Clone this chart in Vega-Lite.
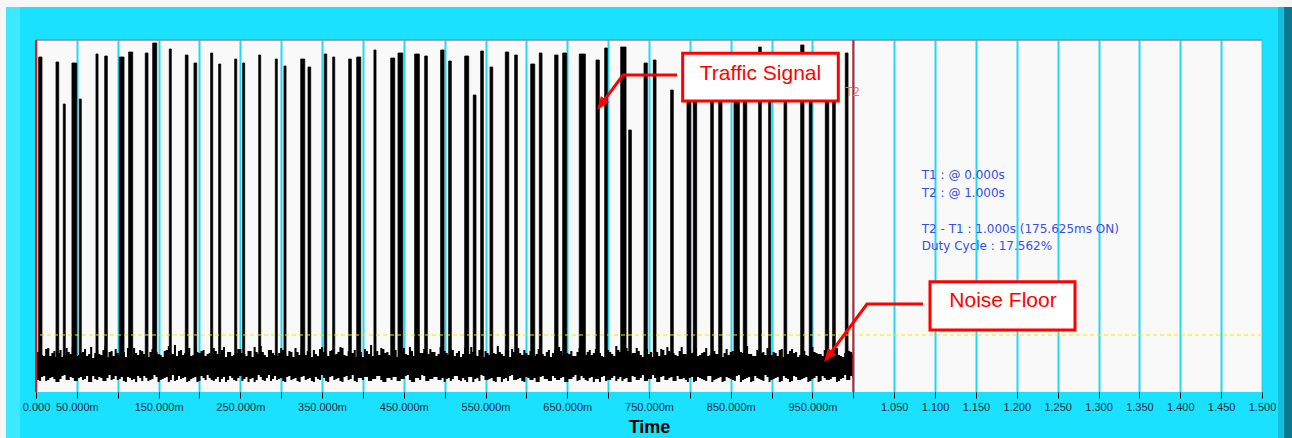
{
  "$schema": "https://vega.github.io/schema/vega-lite/v6.json",
  "width": 1226,
  "height": 352,
  "autosize": {"type": "none"},
  "padding": {"left": 36, "top": 40, "right": 30, "bottom": 46},
  "background": "#1ae1ff",
  "config": {
    "view": {"stroke": null, "fill": "#f9f9f9"},
    "font": "Liberation Sans"
  },
  "datasets": {
    "one": [{}],
    "noise": [
      {"t":0,"hi":38,"lo":14},{"t":0.005,"hi":41,"lo":11},{"t":0.01,"hi":36,"lo":16},{"t":0.015,"hi":44,"lo":12},{"t":0.02,"hi":39,"lo":15},{"t":0.025,"hi":35,"lo":10},{"t":0.03,"hi":42,"lo":13},{"t":0.035,"hi":37,"lo":17},{"t":0.04,"hi":40,"lo":12},{"t":0.045,"hi":45,"lo":14},{"t":0.05,"hi":36,"lo":11},{"t":0.055,"hi":39,"lo":15},{"t":0.06,"hi":43,"lo":13},{"t":0.065,"hi":38,"lo":10},{"t":0.07,"hi":34,"lo":16},{"t":0.075,"hi":41,"lo":12},{"t":0.08,"hi":37,"lo":14},{"t":0.085,"hi":46,"lo":11},{"t":0.09,"hi":40,"lo":17},{"t":0.095,"hi":36,"lo":13},
      {"t":0.1,"hi":39,"lo":12},{"t":0.105,"hi":42,"lo":15},{"t":0.11,"hi":35,"lo":10},{"t":0.115,"hi":38,"lo":14},{"t":0.12,"hi":44,"lo":13},{"t":0.125,"hi":37,"lo":16},{"t":0.13,"hi":41,"lo":11},{"t":0.135,"hi":36,"lo":14},{"t":0.14,"hi":40,"lo":12},{"t":0.145,"hi":43,"lo":17},{"t":0.15,"hi":38,"lo":10},{"t":0.155,"hi":35,"lo":13},{"t":0.16,"hi":42,"lo":15},{"t":0.165,"hi":39,"lo":12},{"t":0.17,"hi":47,"lo":11},{"t":0.175,"hi":41,"lo":16},{"t":0.18,"hi":37,"lo":14},{"t":0.185,"hi":40,"lo":10},{"t":0.19,"hi":36,"lo":13},{"t":0.195,"hi":44,"lo":15},
      {"t":0.2,"hi":39,"lo":11},{"t":0.205,"hi":42,"lo":14},{"t":0.21,"hi":38,"lo":17},{"t":0.215,"hi":35,"lo":12},{"t":0.22,"hi":41,"lo":13},{"t":0.225,"hi":37,"lo":10},{"t":0.23,"hi":45,"lo":15},{"t":0.235,"hi":40,"lo":12},{"t":0.24,"hi":36,"lo":14},{"t":0.245,"hi":39,"lo":11},{"t":0.25,"hi":43,"lo":16},{"t":0.255,"hi":38,"lo":13},{"t":0.26,"hi":41,"lo":10},{"t":0.265,"hi":35,"lo":14},{"t":0.27,"hi":40,"lo":12},{"t":0.275,"hi":46,"lo":15},{"t":0.28,"hi":37,"lo":11},{"t":0.285,"hi":42,"lo":17},{"t":0.29,"hi":39,"lo":13},{"t":0.295,"hi":36,"lo":12},
      {"t":0.3,"hi":44,"lo":14},{"t":0.305,"hi":38,"lo":10},{"t":0.31,"hi":41,"lo":16},{"t":0.315,"hi":35,"lo":13},{"t":0.32,"hi":40,"lo":11},{"t":0.325,"hi":43,"lo":15},{"t":0.33,"hi":37,"lo":12},{"t":0.335,"hi":39,"lo":14},{"t":0.34,"hi":42,"lo":10},{"t":0.345,"hi":36,"lo":13},{"t":0.35,"hi":45,"lo":17},{"t":0.355,"hi":38,"lo":11},{"t":0.36,"hi":41,"lo":15},{"t":0.365,"hi":37,"lo":12},{"t":0.37,"hi":40,"lo":14},{"t":0.375,"hi":44,"lo":10},{"t":0.38,"hi":36,"lo":16},{"t":0.385,"hi":39,"lo":13},{"t":0.39,"hi":42,"lo":11},{"t":0.395,"hi":38,"lo":14},
      {"t":0.4,"hi":35,"lo":12},{"t":0.405,"hi":41,"lo":15},{"t":0.41,"hi":47,"lo":11},{"t":0.415,"hi":39,"lo":13},{"t":0.42,"hi":37,"lo":16},{"t":0.425,"hi":43,"lo":10},{"t":0.43,"hi":40,"lo":14},{"t":0.435,"hi":36,"lo":12},{"t":0.44,"hi":42,"lo":15},{"t":0.445,"hi":38,"lo":11},{"t":0.45,"hi":44,"lo":13},{"t":0.455,"hi":37,"lo":17},{"t":0.46,"hi":41,"lo":10},{"t":0.465,"hi":35,"lo":14},{"t":0.47,"hi":39,"lo":12},{"t":0.475,"hi":43,"lo":16},{"t":0.48,"hi":38,"lo":11},{"t":0.485,"hi":40,"lo":13},{"t":0.49,"hi":36,"lo":15},{"t":0.495,"hi":45,"lo":12},
      {"t":0.5,"hi":41,"lo":10},{"t":0.505,"hi":37,"lo":14},{"t":0.51,"hi":42,"lo":13},{"t":0.515,"hi":39,"lo":16},{"t":0.52,"hi":35,"lo":11},{"t":0.525,"hi":44,"lo":12},{"t":0.53,"hi":38,"lo":15},{"t":0.535,"hi":40,"lo":10},{"t":0.54,"hi":36,"lo":14},{"t":0.545,"hi":43,"lo":17},{"t":0.55,"hi":41,"lo":12},{"t":0.555,"hi":37,"lo":13},{"t":0.56,"hi":39,"lo":11},{"t":0.565,"hi":46,"lo":15},{"t":0.57,"hi":38,"lo":10},{"t":0.575,"hi":42,"lo":14},{"t":0.58,"hi":35,"lo":16},{"t":0.585,"hi":40,"lo":12},{"t":0.59,"hi":44,"lo":13},{"t":0.595,"hi":37,"lo":11},
      {"t":0.6,"hi":39,"lo":15},{"t":0.605,"hi":41,"lo":12},{"t":0.61,"hi":36,"lo":14},{"t":0.615,"hi":43,"lo":10},{"t":0.62,"hi":38,"lo":16},{"t":0.625,"hi":40,"lo":13},{"t":0.63,"hi":35,"lo":11},{"t":0.635,"hi":42,"lo":14},{"t":0.64,"hi":45,"lo":12},{"t":0.645,"hi":37,"lo":15},{"t":0.65,"hi":39,"lo":10},{"t":0.655,"hi":41,"lo":13},{"t":0.66,"hi":36,"lo":17},{"t":0.665,"hi":44,"lo":12},{"t":0.67,"hi":38,"lo":14},{"t":0.675,"hi":40,"lo":11},{"t":0.68,"hi":37,"lo":15},{"t":0.685,"hi":43,"lo":13},{"t":0.69,"hi":39,"lo":10},{"t":0.695,"hi":35,"lo":16},
      {"t":0.7,"hi":42,"lo":12},{"t":0.705,"hi":38,"lo":14},{"t":0.71,"hi":46,"lo":11},{"t":0.715,"hi":40,"lo":15},{"t":0.72,"hi":36,"lo":13},{"t":0.725,"hi":41,"lo":10},{"t":0.73,"hi":39,"lo":16},{"t":0.735,"hi":44,"lo":12},{"t":0.74,"hi":37,"lo":14},{"t":0.745,"hi":42,"lo":11},{"t":0.75,"hi":38,"lo":13},{"t":0.755,"hi":35,"lo":17},{"t":0.76,"hi":40,"lo":10},{"t":0.765,"hi":43,"lo":15},{"t":0.77,"hi":37,"lo":12},{"t":0.775,"hi":41,"lo":14},{"t":0.78,"hi":39,"lo":11},{"t":0.785,"hi":36,"lo":16},{"t":0.79,"hi":45,"lo":13},{"t":0.795,"hi":38,"lo":12},
      {"t":0.8,"hi":42,"lo":14},{"t":0.805,"hi":40,"lo":10},{"t":0.81,"hi":36,"lo":15},{"t":0.815,"hi":39,"lo":13},{"t":0.82,"hi":44,"lo":11},{"t":0.825,"hi":37,"lo":16},{"t":0.83,"hi":41,"lo":12},{"t":0.835,"hi":38,"lo":14},{"t":0.84,"hi":35,"lo":10},{"t":0.845,"hi":43,"lo":15},{"t":0.85,"hi":40,"lo":13},{"t":0.855,"hi":37,"lo":11},{"t":0.86,"hi":42,"lo":17},{"t":0.865,"hi":39,"lo":12},{"t":0.87,"hi":46,"lo":14},{"t":0.875,"hi":38,"lo":10},{"t":0.88,"hi":36,"lo":16},{"t":0.885,"hi":41,"lo":13},{"t":0.89,"hi":40,"lo":11},{"t":0.895,"hi":44,"lo":15},
      {"t":0.9,"hi":37,"lo":12},{"t":0.905,"hi":39,"lo":14},{"t":0.91,"hi":42,"lo":10},{"t":0.915,"hi":35,"lo":16},{"t":0.92,"hi":38,"lo":13},{"t":0.925,"hi":43,"lo":11},{"t":0.93,"hi":40,"lo":15},{"t":0.935,"hi":37,"lo":12},{"t":0.94,"hi":41,"lo":14},{"t":0.945,"hi":36,"lo":10},{"t":0.95,"hi":45,"lo":13},{"t":0.955,"hi":39,"lo":16},{"t":0.96,"hi":38,"lo":11},{"t":0.965,"hi":42,"lo":14},{"t":0.97,"hi":37,"lo":12},{"t":0.975,"hi":40,"lo":15},{"t":0.98,"hi":44,"lo":10},{"t":0.985,"hi":36,"lo":13},{"t":0.99,"hi":39,"lo":17},{"t":0.995,"hi":41,"lo":12},
      {"t":1.0,"hi":38,"lo":14},
      {"t":0.0025,"hi":40,"lo":12},{"t":0.0075,"hi":37,"lo":15},{"t":0.0125,"hi":43,"lo":11},{"t":0.0175,"hi":36,"lo":14},{"t":0.0225,"hi":41,"lo":13},{"t":0.0275,"hi":39,"lo":10},{"t":0.0325,"hi":35,"lo":16},{"t":0.0375,"hi":44,"lo":12},{"t":0.0425,"hi":38,"lo":15},{"t":0.0475,"hi":42,"lo":11},{"t":0.0525,"hi":37,"lo":14},{"t":0.0575,"hi":40,"lo":12},{"t":0.0625,"hi":36,"lo":16},{"t":0.0675,"hi":45,"lo":10},{"t":0.0725,"hi":39,"lo":13},{"t":0.0775,"hi":38,"lo":15},{"t":0.0825,"hi":42,"lo":11},{"t":0.0875,"hi":35,"lo":14},{"t":0.0925,"hi":41,"lo":12},{"t":0.0975,"hi":43,"lo":16},
      {"t":0.1025,"hi":37,"lo":13},{"t":0.1075,"hi":40,"lo":11},{"t":0.1125,"hi":44,"lo":15},{"t":0.1175,"hi":36,"lo":12},{"t":0.1225,"hi":39,"lo":10},{"t":0.1275,"hi":42,"lo":14},{"t":0.1325,"hi":38,"lo":16},{"t":0.1375,"hi":35,"lo":11},{"t":0.1425,"hi":43,"lo":13},{"t":0.1475,"hi":40,"lo":15},{"t":0.1525,"hi":37,"lo":12},{"t":0.1575,"hi":41,"lo":14},{"t":0.1625,"hi":46,"lo":10},{"t":0.1675,"hi":38,"lo":17},{"t":0.1725,"hi":36,"lo":12},{"t":0.1775,"hi":42,"lo":13},{"t":0.1825,"hi":39,"lo":15},{"t":0.1875,"hi":44,"lo":11},{"t":0.1925,"hi":37,"lo":14},{"t":0.1975,"hi":40,"lo":10},
      {"t":0.2025,"hi":41,"lo":16},{"t":0.2075,"hi":36,"lo":12},{"t":0.2125,"hi":39,"lo":14},{"t":0.2175,"hi":44,"lo":11},{"t":0.2225,"hi":38,"lo":15},{"t":0.2275,"hi":42,"lo":13},{"t":0.2325,"hi":35,"lo":10},{"t":0.2375,"hi":40,"lo":16},{"t":0.2425,"hi":37,"lo":12},{"t":0.2475,"hi":43,"lo":14},{"t":0.2525,"hi":39,"lo":11},{"t":0.2575,"hi":36,"lo":15},{"t":0.2625,"hi":41,"lo":13},{"t":0.2675,"hi":45,"lo":10},{"t":0.2725,"hi":38,"lo":17},{"t":0.2775,"hi":40,"lo":12},{"t":0.2825,"hi":35,"lo":14},{"t":0.2875,"hi":42,"lo":11},{"t":0.2925,"hi":37,"lo":16},{"t":0.2975,"hi":39,"lo":13},
      {"t":0.3025,"hi":42,"lo":11},{"t":0.3075,"hi":36,"lo":15},{"t":0.3125,"hi":40,"lo":12},{"t":0.3175,"hi":44,"lo":14},{"t":0.3225,"hi":37,"lo":10},{"t":0.3275,"hi":39,"lo":16},{"t":0.3325,"hi":41,"lo":13},{"t":0.3375,"hi":35,"lo":11},{"t":0.3425,"hi":38,"lo":15},{"t":0.3475,"hi":43,"lo":12},{"t":0.3525,"hi":40,"lo":14},{"t":0.3575,"hi":36,"lo":10},{"t":0.3625,"hi":42,"lo":16},{"t":0.3675,"hi":38,"lo":13},{"t":0.3725,"hi":45,"lo":11},{"t":0.3775,"hi":37,"lo":15},{"t":0.3825,"hi":41,"lo":12},{"t":0.3875,"hi":39,"lo":17},{"t":0.3925,"hi":35,"lo":10},{"t":0.3975,"hi":40,"lo":14},
      {"t":0.4025,"hi":43,"lo":15},{"t":0.4075,"hi":38,"lo":11},{"t":0.4125,"hi":36,"lo":13},{"t":0.4175,"hi":41,"lo":16},{"t":0.4225,"hi":44,"lo":12},{"t":0.4275,"hi":39,"lo":10},{"t":0.4325,"hi":37,"lo":14},{"t":0.4375,"hi":42,"lo":15},{"t":0.4425,"hi":35,"lo":11},{"t":0.4475,"hi":40,"lo":13},{"t":0.4525,"hi":38,"lo":16},{"t":0.4575,"hi":45,"lo":12},{"t":0.4625,"hi":36,"lo":10},{"t":0.4675,"hi":41,"lo":14},{"t":0.4725,"hi":39,"lo":17},{"t":0.4775,"hi":37,"lo":11},{"t":0.4825,"hi":43,"lo":13},{"t":0.4875,"hi":40,"lo":15},{"t":0.4925,"hi":38,"lo":12},{"t":0.4975,"hi":36,"lo":14},
      {"t":0.5025,"hi":39,"lo":13},{"t":0.5075,"hi":43,"lo":11},{"t":0.5125,"hi":36,"lo":16},{"t":0.5175,"hi":41,"lo":12},{"t":0.5225,"hi":38,"lo":14},{"t":0.5275,"hi":40,"lo":10},{"t":0.5325,"hi":45,"lo":15},{"t":0.5375,"hi":37,"lo":13},{"t":0.5425,"hi":42,"lo":11},{"t":0.5475,"hi":35,"lo":16},{"t":0.5525,"hi":39,"lo":12},{"t":0.5575,"hi":44,"lo":14},{"t":0.5625,"hi":38,"lo":10},{"t":0.5675,"hi":40,"lo":15},{"t":0.5725,"hi":36,"lo":13},{"t":0.5775,"hi":41,"lo":11},{"t":0.5825,"hi":43,"lo":17},{"t":0.5875,"hi":37,"lo":12},{"t":0.5925,"hi":39,"lo":14},{"t":0.5975,"hi":42,"lo":10},
      {"t":0.6025,"hi":37,"lo":14},{"t":0.6075,"hi":40,"lo":12},{"t":0.6125,"hi":38,"lo":10},{"t":0.6175,"hi":44,"lo":15},{"t":0.6225,"hi":36,"lo":13},{"t":0.6275,"hi":42,"lo":11},{"t":0.6325,"hi":39,"lo":16},{"t":0.6375,"hi":35,"lo":12},{"t":0.6425,"hi":41,"lo":14},{"t":0.6475,"hi":43,"lo":10},{"t":0.6525,"hi":38,"lo":13},{"t":0.6575,"hi":36,"lo":15},{"t":0.6625,"hi":40,"lo":11},{"t":0.6675,"hi":45,"lo":16},{"t":0.6725,"hi":37,"lo":12},{"t":0.6775,"hi":42,"lo":14},{"t":0.6825,"hi":39,"lo":10},{"t":0.6875,"hi":41,"lo":13},{"t":0.6925,"hi":36,"lo":15},{"t":0.6975,"hi":38,"lo":11},
      {"t":0.7025,"hi":40,"lo":12},{"t":0.7075,"hi":36,"lo":16},{"t":0.7125,"hi":42,"lo":13},{"t":0.7175,"hi":38,"lo":11},{"t":0.7225,"hi":44,"lo":14},{"t":0.7275,"hi":37,"lo":10},{"t":0.7325,"hi":39,"lo":15},{"t":0.7375,"hi":41,"lo":12},{"t":0.7425,"hi":35,"lo":17},{"t":0.7475,"hi":43,"lo":11},{"t":0.7525,"hi":40,"lo":13},{"t":0.7575,"hi":38,"lo":14},{"t":0.7625,"hi":36,"lo":10},{"t":0.7675,"hi":42,"lo":16},{"t":0.7725,"hi":45,"lo":12},{"t":0.7775,"hi":39,"lo":15},{"t":0.7825,"hi":37,"lo":11},{"t":0.7875,"hi":41,"lo":13},{"t":0.7925,"hi":38,"lo":14},{"t":0.7975,"hi":35,"lo":10},
      {"t":0.8025,"hi":39,"lo":15},{"t":0.8075,"hi":44,"lo":11},{"t":0.8125,"hi":37,"lo":14},{"t":0.8175,"hi":40,"lo":12},{"t":0.8225,"hi":36,"lo":16},{"t":0.8275,"hi":42,"lo":10},{"t":0.8325,"hi":38,"lo":13},{"t":0.8375,"hi":45,"lo":15},{"t":0.8425,"hi":39,"lo":11},{"t":0.8475,"hi":37,"lo":14},{"t":0.8525,"hi":41,"lo":12},{"t":0.8575,"hi":35,"lo":16},{"t":0.8625,"hi":40,"lo":10},{"t":0.8675,"hi":43,"lo":13},{"t":0.8725,"hi":38,"lo":15},{"t":0.8775,"hi":36,"lo":11},{"t":0.8825,"hi":42,"lo":14},{"t":0.8875,"hi":39,"lo":12},{"t":0.8925,"hi":37,"lo":17},{"t":0.8975,"hi":41,"lo":10},
      {"t":0.9025,"hi":40,"lo":13},{"t":0.9075,"hi":36,"lo":15},{"t":0.9125,"hi":43,"lo":11},{"t":0.9175,"hi":38,"lo":14},{"t":0.9225,"hi":41,"lo":10},{"t":0.9275,"hi":39,"lo":16},{"t":0.9325,"hi":35,"lo":12},{"t":0.9375,"hi":42,"lo":13},{"t":0.9425,"hi":37,"lo":15},{"t":0.9475,"hi":44,"lo":11},{"t":0.9525,"hi":40,"lo":14},{"t":0.9575,"hi":38,"lo":10},{"t":0.9625,"hi":36,"lo":16},{"t":0.9675,"hi":41,"lo":12},{"t":0.9725,"hi":39,"lo":13},{"t":0.9775,"hi":43,"lo":15},{"t":0.9825,"hi":37,"lo":11},{"t":0.9875,"hi":35,"lo":14},{"t":0.9925,"hi":42,"lo":12},{"t":0.9975,"hi":40,"lo":16}
    ],
    "pulses": [
      {"t0":0.0033,"t1":0.0073,"top":335},{"t0":0.0245,"t1":0.0278,"top":330},{"t0":0.0334,"t1":0.0358,"top":288},{"t0":0.044,"t1":0.0498,"top":329},{"t0":0.053,"t1":0.0554,"top":293},{"t0":0.0734,"t1":0.0759,"top":338},{"t0":0.0841,"t1":0.0872,"top":336},{"t0":0.1019,"t1":0.1077,"top":335},{"t0":0.1134,"t1":0.1183,"top":340},{"t0":0.1337,"t1":0.137,"top":339},
      {"t0":0.1428,"t1":0.1477,"top":349},{"t0":0.1631,"t1":0.1655,"top":343},{"t0":0.1827,"t1":0.186,"top":337},{"t0":0.1933,"t1":0.1966,"top":329},{"t0":0.2137,"t1":0.2162,"top":339},{"t0":0.2235,"t1":0.226,"top":328},{"t0":0.2431,"t1":0.2456,"top":333},{"t0":0.2529,"t1":0.2553,"top":329},{"t0":0.2725,"t1":0.2749,"top":337},{"t0":0.2928,"t1":0.2952,"top":333},
      {"t0":0.3034,"t1":0.3059,"top":326},{"t0":0.3239,"t1":0.3288,"top":333},{"t0":0.3328,"t1":0.3361,"top":325},{"t0":0.3527,"t1":0.3557,"top":338},{"t0":0.363,"t1":0.3655,"top":335},{"t0":0.3826,"t1":0.3858,"top":333},{"t0":0.3924,"t1":0.3973,"top":335},{"t0":0.4135,"t1":0.416,"top":342},{"t0":0.434,"t1":0.4389,"top":334},{"t0":0.4429,"t1":0.4487,"top":339},
      {"t0":0.4633,"t1":0.469,"top":338},{"t0":0.4756,"t1":0.4788,"top":336},{"t0":0.4951,"t1":0.4992,"top":342},{"t0":0.5049,"t1":0.5081,"top":331},{"t0":0.5245,"t1":0.5294,"top":336},{"t0":0.535,"t1":0.5383,"top":297},{"t0":0.5441,"t1":0.5473,"top":341},{"t0":0.5555,"t1":0.5588,"top":325},{"t0":0.5742,"t1":0.5784,"top":340},{"t0":0.5857,"t1":0.5889,"top":337},
      {"t0":0.6053,"t1":0.6102,"top":328},{"t0":0.6158,"t1":0.6191,"top":339},{"t0":0.6346,"t1":0.6387,"top":337},{"t0":0.6444,"t1":0.6493,"top":339},{"t0":0.6647,"t1":0.6721,"top":338},{"t0":0.6852,"t1":0.6892,"top":332},{"t0":0.6958,"t1":0.699,"top":344},{"t0":0.7154,"t1":0.7219,"top":345},{"t0":0.7252,"t1":0.7284,"top":262},{"t0":0.7439,"t1":0.7479,"top":329},
      {"t0":0.7553,"t1":0.7586,"top":332},{"t0":0.7765,"t1":0.7797,"top":302},{"t0":0.7965,"t1":0.801,"top":330},{"t0":0.8042,"t1":0.8083,"top":328},{"t0":0.8255,"t1":0.8287,"top":333},{"t0":0.8353,"t1":0.8393,"top":330},{"t0":0.854,"t1":0.8605,"top":331},{"t0":0.8654,"t1":0.8696,"top":334},{"t0":0.8842,"t1":0.8874,"top":345},{"t0":0.8964,"t1":0.8989,"top":330},
      {"t0":0.9152,"t1":0.9185,"top":332},{"t0":0.9356,"t1":0.9396,"top":347},{"t0":0.9461,"t1":0.9494,"top":331},{"t0":0.9657,"t1":0.9699,"top":333},{"t0":0.9747,"t1":0.9779,"top":330},{"t0":0.9902,"t1":0.9935,"top":339}
    ],
    "cursors": [{"t": 0, "name": "T1"}, {"t": 1.0, "name": "T2"}],
    "readout": [
      {"t": 1.0837, "v": 217, "label": "T1 : @ 0.000s"},
      {"t": 1.0837, "v": 199, "label": "T2 : @ 1.000s"},
      {"t": 1.0837, "v": 163, "label": "T2 - T1 : 1.000s (175.625ms ON)"},
      {"t": 1.0837, "v": 146, "label": "Duty Cycle : 17.562%"}
    ],
    "boxes": [
      {"t0": 0.7912, "t1": 0.9816, "v0": 291, "v1": 338.7, "tc": 0.8864, "vc": 318, "label": "Traffic  Signal"},
      {"t0": 1.0938, "t1": 1.2712, "v0": 62, "v1": 110.3, "tc": 1.1831, "vc": 91, "label": "Noise Floor"}
    ],
    "arrows": [
      {"id": "a", "o": 0, "t": 0.7843, "v": 317}, {"id": "a", "o": 1, "t": 0.7182, "v": 317}, {"id": "a", "o": 2, "t": 0.6908, "v": 286.8},
      {"id": "b", "o": 0, "t": 1.0852, "v": 88}, {"id": "b", "o": 1, "t": 1.0167, "v": 88}, {"id": "b", "o": 2, "t": 0.9685, "v": 34.8}
    ],
    "heads": [{"t": 0.6864, "v": 282}, {"t": 0.9641, "v": 30}]
  },
  "layer": [
    {
      "data": {"name": "noise"},
      "mark": {"type": "area", "color": "#000000", "interpolate": "step"},
      "encoding": {
        "x": {
          "field": "t", "type": "quantitative",
          "scale": {"domain": [0, 1.5], "nice": false, "zero": false},
          "axis": {
            "title": "Time",
            "values": [0,0.05,0.1,0.15,0.2,0.25,0.3,0.35,0.4,0.45,0.5,0.55,0.6,0.65,0.7,0.75,0.8,0.85,0.9,0.95,1,1.05,1.1,1.15,1.2,1.25,1.3,1.35,1.4,1.45,1.5],
            "labelExpr": "datum.value < 0.001 ? '0.000' : datum.value < 0.999 ? (round(datum.value*1000) % 100 == 50 ? format(datum.value*1000, '.3f') + 'm' : '') : datum.value < 1.001 ? '' : format(datum.value, '.3f')",
            "grid": true, "gridColor": "#22d8f5", "gridWidth": 2, "gridOpacity": 1,
            "domain": false, "ticks": true, "tickColor": "#000000", "tickSize": 6, "tickWidth": 1,
            "labelFont": "Liberation Sans", "labelFontSize": 11, "labelColor": "#1a2b3c", "labelPadding": 3,
            "labelOverlap": false, "labelFlush": false,
            "titleFont": "Liberation Sans", "titleFontSize": 18, "titleFontWeight": "bold", "titleColor": "#000000", "titlePadding": 6
          }
        },
        "y": {"field": "hi", "type": "quantitative", "scale": {"domain": [0, 352], "nice": false, "zero": false}, "axis": null},
        "y2": {"field": "lo"}
      }
    },
    {
      "data": {"name": "pulses"},
      "mark": {"type": "rect", "color": "#000000", "stroke": "#000000", "strokeWidth": 0.8},
      "encoding": {
        "x": {"field": "t0", "type": "quantitative"},
        "x2": {"field": "t1"},
        "y": {"field": "top", "type": "quantitative", "axis": null},
        "y2": {"datum": 20}
      }
    },
    {
      "data": {"name": "one"},
      "mark": {"type": "rule", "color": "#eeee00", "strokeWidth": 1, "strokeDash": [4, 3]},
      "encoding": {"y": {"datum": 57, "type": "quantitative", "axis": null}}
    },
    {
      "data": {"name": "one"},
      "mark": {"type": "rule", "color": "#8a8a8a", "strokeWidth": 1.5},
      "encoding": {"y": {"datum": 352, "type": "quantitative", "axis": null}}
    },
    {
      "data": {"name": "cursors"},
      "mark": {"type": "rule", "color": "#e8141e", "strokeWidth": 2},
      "encoding": {"x": {"field": "t", "type": "quantitative"}}
    },
    {
      "data": {"name": "one"},
      "mark": {"type": "text", "text": "T2", "color": "#f07050", "fontSize": 12, "font": "Liberation Sans", "align": "center", "baseline": "middle", "dx": -1},
      "encoding": {"x": {"datum": 1.0, "type": "quantitative"}, "y": {"datum": 300, "type": "quantitative", "axis": null}}
    },
    {
      "data": {"name": "readout"},
      "mark": {"type": "text", "color": "#3650e6", "fontSize": 12, "font": "DejaVu Sans", "align": "left", "baseline": "middle"},
      "encoding": {
        "x": {"field": "t", "type": "quantitative"},
        "y": {"field": "v", "type": "quantitative", "axis": null},
        "text": {"field": "label"}
      }
    },
    {
      "data": {"name": "boxes"},
      "mark": {"type": "rect", "fill": "#ffffff", "stroke": "#ff0000", "strokeWidth": 3},
      "encoding": {
        "x": {"field": "t0", "type": "quantitative"},
        "x2": {"field": "t1"},
        "y": {"field": "v0", "type": "quantitative", "axis": null},
        "y2": {"field": "v1"}
      }
    },
    {
      "data": {"name": "boxes"},
      "mark": {"type": "text", "color": "#ff0000", "fontSize": 21, "font": "Liberation Sans", "align": "center", "baseline": "middle"},
      "encoding": {
        "x": {"field": "tc", "type": "quantitative"},
        "y": {"field": "vc", "type": "quantitative", "axis": null},
        "text": {"field": "label"}
      }
    },
    {
      "data": {"name": "arrows"},
      "mark": {"type": "line", "color": "#ff0000", "strokeWidth": 3},
      "encoding": {
        "x": {"field": "t", "type": "quantitative"},
        "y": {"field": "v", "type": "quantitative", "axis": null},
        "detail": {"field": "id"},
        "order": {"field": "o"}
      }
    },
    {
      "data": {"name": "heads"},
      "mark": {"type": "point", "shape": "M0,0L-0.65,1.7L0.65,1.7Z", "filled": true, "color": "#ff0000", "opacity": 1, "size": 256, "angle": 216.6},
      "encoding": {
        "x": {"field": "t", "type": "quantitative"},
        "y": {"field": "v", "type": "quantitative", "axis": null}
      }
    },
    {
      "data": {"name": "one"},
      "mark": {"type": "rect", "color": "#f6f6f6", "clip": false},
      "encoding": {
        "x": {"datum": -0.05, "type": "quantitative"}, "x2": {"datum": 1.6},
        "y": {"datum": 385, "type": "quantitative", "axis": null}, "y2": {"datum": 400}
      }
    },
    {
      "data": {"name": "one"},
      "mark": {"type": "rect", "color": "#f6f6f6", "clip": false},
      "encoding": {
        "x": {"datum": -0.05, "type": "quantitative"}, "x2": {"datum": -0.0367},
        "y": {"datum": -50, "type": "quantitative", "axis": null}, "y2": {"datum": 400}
      }
    },
    {
      "data": {"name": "one"},
      "mark": {"type": "rect", "color": "#3ceaff", "clip": false},
      "encoding": {
        "x": {"datum": -0.0367, "type": "quantitative"}, "x2": {"datum": -0.0196},
        "y": {"datum": -50, "type": "quantitative", "axis": null}, "y2": {"datum": 385}
      }
    },
    {
      "data": {"name": "one"},
      "mark": {"type": "rect", "color": "#12c0dc", "clip": false},
      "encoding": {
        "x": {"datum": 1.5196, "type": "quantitative"}, "x2": {"datum": 1.527},
        "y": {"datum": -50, "type": "quantitative", "axis": null}, "y2": {"datum": 385}
      }
    },
    {
      "data": {"name": "one"},
      "mark": {"type": "rect", "color": "#087a90", "clip": false},
      "encoding": {
        "x": {"datum": 1.527, "type": "quantitative"}, "x2": {"datum": 1.56},
        "y": {"datum": -50, "type": "quantitative", "axis": null}, "y2": {"datum": 385}
      }
    }
  ]
}
